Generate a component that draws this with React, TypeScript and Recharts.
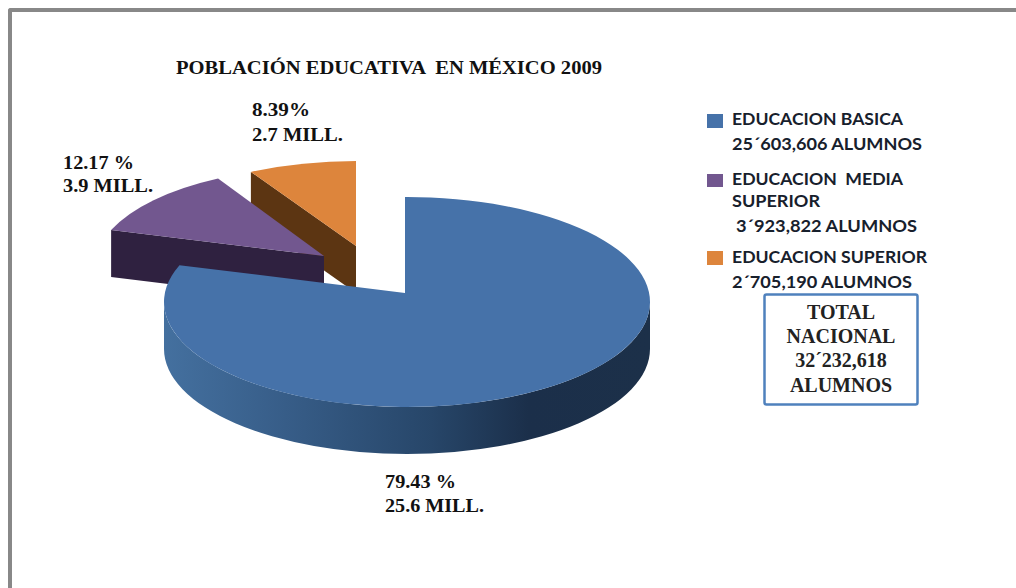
import React from 'react';
import { PieChart, Pie } from 'recharts';

const TITLE = 'POBLACIÓN EDUCATIVA  EN MÉXICO 2009';

// Levels in legend order, students per level
const levels = ['EDUCACION BASICA', 'EDUCACION MEDIA SUPERIOR', 'EDUCACION SUPERIOR'];
const students = [25603606, 3923822, 2705190];
const percentLabels = ['79.43 %', '12.17 %', '8.39%'];
const millionLabels = ['25.6 MILL.', '3.9 MILL.', '2.7 MILL.'];
const totalLines = ['TOTAL', 'NACIONAL', '32´232,618', 'ALUMNOS'];

const FILLS: Record<string, string> = {
  'EDUCACION BASICA': '#4672a9',
  'EDUCACION MEDIA SUPERIOR': '#72578f',
  'EDUCACION SUPERIOR': '#dd853c',
};
const WALLS: Record<string, string> = {
  'EDUCACION BASICA': 'url(#blueWall)',
  'EDUCACION MEDIA SUPERIOR': '#2f2140',
  'EDUCACION SUPERIOR': '#5c3512',
};

// Projected ellipse of each exploded slice: radii and the apex of the wedge.
// The apex sits a little behind the ellipse centre, as in a perspective view.
const VIEW: Record<string, { rx: number; ry: number; hx: number; hy: number }> = {
  'EDUCACION BASICA': { rx: 243, ry: 105, hx: 405, hy: 293 },
  'EDUCACION MEDIA SUPERIOR': { rx: 230, ry: 98, hx: 324, hy: 256 },
  'EDUCACION SUPERIOR': { rx: 229, ry: 94, hx: 356, hy: 246 },
};
const APEX_DX = 2;
const APEX_DY = 9;
const DEPTH = 47;

// Drawn back to front, so the large slice sits over the two small ones
const pieData = levels
  .map((name, i) => ({ name, value: students[i] }))
  .reverse();

const Slice3D = (props: any) => {
  const { name, startAngle, endAngle } = props;
  const v = VIEW[name];
  const cx = v.hx + APEX_DX;
  const cy = v.hy + APEX_DY;

  // Point on the rim, measured around the ellipse centre
  const rim = (deg: number) => {
    const r = (deg * Math.PI) / 180;
    return [cx + v.rx * Math.cos(r), cy - v.ry * Math.sin(r)];
  };
  // Where a cut edge leaving the apex meets the rim
  const cut = (deg: number) => {
    const r = (deg * Math.PI) / 180;
    const ux = Math.cos(r);
    const uy = -Math.sin(r);
    const ox = -APEX_DX / v.rx;
    const oy = -APEX_DY / v.ry;
    const b = ox * ux + oy * uy;
    const c = ox * ox + oy * oy - 1;
    const t = -b + Math.sqrt(b * b - c);
    return [v.hx + t * v.rx * ux, v.hy + t * v.ry * uy];
  };

  const [sx, sy] = cut(startAngle);
  const [ex, ey] = cut(endAngle);
  const large = endAngle - startAngle > 180 ? 1 : 0;
  const top = `M${v.hx},${v.hy} L${sx},${sy} A${v.rx},${v.ry} 0 ${large} 0 ${ex},${ey} Z`;

  const walls: string[] = [];
  // Cut face at the end of the sweep faces the viewer when its normal points down
  if (Math.sin(((endAngle + 90) * Math.PI) / 180) < -0.01) {
    walls.push(
      `M${ex},${ey} L${v.hx},${v.hy} L${v.hx},${v.hy + DEPTH} L${ex},${ey + DEPTH} Z`,
    );
  }
  // Rim: only the lower half of the ellipse is visible
  const rimFrom = Math.max(startAngle, 180);
  const rimTo = Math.min(endAngle, 360);
  if (rimTo > rimFrom) {
    const [ax, ay] = rim(rimFrom);
    const [bx, by] = rim(rimTo);
    walls.push(
      `M${ax},${ay} A${v.rx},${v.ry} 0 0 0 ${bx},${by} L${bx},${by + DEPTH} A${v.rx},${v.ry} 0 0 1 ${ax},${ay + DEPTH} Z`,
    );
  }

  return (
    <g>
      {walls.map((d, i) => (
        <path key={i} d={d} fill={WALLS[name]} />
      ))}
      <path d={top} fill={FILLS[name]} />
    </g>
  );
};

const Txt = ({ x, y, w, size, children, sans }: any) => (
  <text
    x={x}
    y={y}
    textLength={w}
    lengthAdjust="spacingAndGlyphs"
    fontSize={size}
    fontWeight={700}
    fontFamily={sans ? 'Lato, sans-serif' : '"Liberation Serif", serif'}
    fill={sans ? '#17202c' : '#111'}
    xmlSpace="preserve"
  >
    {children}
  </text>
);

const App = () => (
  <div style={{ position: 'absolute', left: 0, top: 0, width: 1016, height: 588, background: '#fff', overflow: 'hidden' }}>
    {/* frame, open on the right and at the bottom */}
    <div style={{ position: 'absolute', left: 8, top: 8, width: 1008, height: 580, borderTop: '4.5px solid #888', borderLeft: '4.5px solid #888', borderTopLeftRadius: 3, boxSizing: 'border-box' }} />

    <div style={{ position: 'absolute', left: 0, top: 0 }}>
      <PieChart width={1016} height={588} margin={{ top: 0, right: 0, bottom: 0, left: 0 }}>
        <defs>
          <linearGradient id="blueWall" x1="0" y1="0" x2="1" y2="0">
            <stop offset="0%" stopColor="#44709f" />
            <stop offset="25%" stopColor="#375d88" />
            <stop offset="55%" stopColor="#274669" />
            <stop offset="75%" stopColor="#1b2f4a" />
            <stop offset="100%" stopColor="#1c3049" />
          </linearGradient>
        </defs>
        <Pie
          data={pieData}
          dataKey="value"
          nameKey="name"
          cx={407}
          cy={302}
          outerRadius={243}
          startAngle={90}
          endAngle={450}
          stroke="none"
          shape={Slice3D}
          label={false}
          labelLine={false}
          isAnimationActive={false}
        />
      </PieChart>
    </div>

    <svg width={1016} height={588} style={{ position: 'absolute', left: 0, top: 0 }}>
      <Txt x={176} y={74} w={426} size={18}>{TITLE}</Txt>

      {/* slice labels */}
      <Txt x={385} y={488} w={71} size={19}>{percentLabels[0]}</Txt>
      <Txt x={385} y={512} w={99} size={19}>{millionLabels[0]}</Txt>
      <Txt x={63} y={169} w={71} size={19}>{percentLabels[1]}</Txt>
      <Txt x={63} y={192} w={90} size={19}>{millionLabels[1]}</Txt>
      <Txt x={252} y={116} w={58} size={19}>{percentLabels[2]}</Txt>
      <Txt x={252} y={141} w={91} size={19}>{millionLabels[2]}</Txt>

      {/* legend */}
      <rect x={707} y={114} width={16} height={14} fill={FILLS[levels[0]]} />
      <Txt x={732} y={125} w={171} size={17} sans>{levels[0]}</Txt>
      <Txt x={732} y={150} w={190} size={17} sans>25´603,606 ALUMNOS</Txt>

      <rect x={707} y={174} width={16} height={13} fill={FILLS[levels[1]]} />
      <Txt x={732} y={185} w={171} size={17} sans>EDUCACION  MEDIA</Txt>
      <Txt x={732} y={207} w={88} size={17} sans>SUPERIOR</Txt>
      <Txt x={736} y={232} w={181} size={17} sans>3´923,822 ALUMNOS</Txt>

      <rect x={707} y={251} width={16} height={14} fill={FILLS[levels[2]]} />
      <Txt x={732} y={263} w={195} size={17} sans>{levels[2]}</Txt>
      <Txt x={732} y={288} w={180} size={17} sans>2´705,190 ALUMNOS</Txt>

      {/* national total box */}
      <rect x={764.5} y={294.5} width={153} height={110} rx={2} fill="#fff" stroke="#4f81bd" strokeWidth={2.5} />
      {totalLines.map((line, i) => (
        <text
          key={line}
          x={841}
          y={[319, 343, 367, 392][i]}
          textAnchor="middle"
          fontSize={20}
          fontWeight={700}
          fontFamily='"Liberation Serif", serif'
          fill="#222"
        >
          {line}
        </text>
      ))}
    </svg>
  </div>
);

export default App;
